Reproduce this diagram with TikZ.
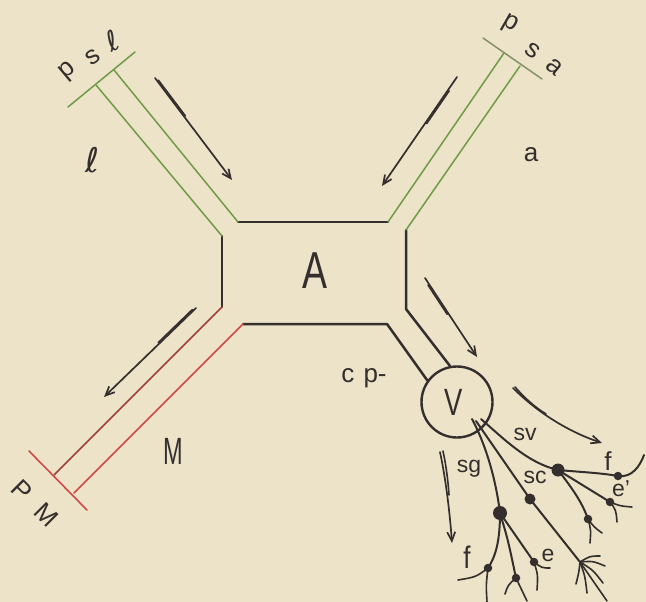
\documentclass[tikz,border=0pt]{standalone}
\usepackage{fontspec}
\setmainfont{Liberation Sans}
\newfontfamily\ellfont{DejaVu Sans}
\usetikzlibrary{arrows.meta,calc}

\definecolor{paper}{RGB}{236,227,201}
\definecolor{ink}{RGB}{52,47,45}
\definecolor{nerve}{RGB}{112,155,70}
\definecolor{motor}{RGB}{208,74,70}
\definecolor{motordark}{RGB}{160,62,56}

\tikzset{
  wall/.style={draw=ink, line width=2.5pt, line join=round, line cap=round},
  sensory/.style={draw=nerve, line width=1.5pt, line cap=round},
  efferent/.style={draw=motor, line width=1.6pt, line cap=round},
  flow/.style={draw=ink, line width=1.7pt, line cap=round,
    -{Straight Barb[length=9pt,width=8pt,line width=1.7pt]}},
  flowmark/.style={draw=ink, line width=1.6pt, line cap=round},
  fiber/.style={draw=ink, line width=2pt, line cap=round},
  twig/.style={draw=ink, line width=1.6pt, line cap=round},
  bigdot/.style={circle, fill=ink, inner sep=0pt, minimum size=13pt},
  smalldot/.style={circle, fill=ink, inner sep=0pt, minimum size=8.5pt},
  lab/.style={text=ink, inner sep=0pt, font=\fontsize{26}{26}\selectfont},
  smalllab/.style={text=ink, inner sep=0pt, font=\fontsize{23}{23}\selectfont},
  elllab/.style={text=ink, inner sep=0pt, font=\ellfont\fontsize{28}{28}\selectfont},
}

\begin{document}
\begin{tikzpicture}[x=1pt,y=-1pt]
\fill[paper] (0,0) rectangle (646,602);
\useasboundingbox (0,0) rectangle (646,602);

% ---------- ventricle V ----------
\node[draw=ink, line width=2.4pt, circle, minimum size=71pt, inner sep=0pt] (V) at (457,402) {};
\node[text=ink, inner sep=0pt, font=\fontsize{38}{38}\selectfont, xscale=0.72] (Vlab) at (454,402) {V};

% ---------- chamber A ----------
\coordinate (tl1) at (238,222);
\coordinate (tl2) at (222,236);
\coordinate (tr1) at (388,222);
\coordinate (tr2) at (406,230);
\coordinate (bl1) at (222,307);
\coordinate (bl2) at (243,324);
\coordinate (br1) at (387,324);
\coordinate (br2) at (406,309);

\draw[wall] (tl1) -- (tr1);
\draw[wall] (tl2) -- (bl1);
\draw[wall] (bl2) -- (br1) -- (V.144);
\draw[wall] (tr2) -- (br2) -- (V.101);

\node[text=ink, inner sep=0pt, font=\fontsize{52}{52}\selectfont, xscale=0.72] (Alab) at (315,271) {A};

% ---------- channel l (green) ----------
\coordinate (l1) at (114,70);
\coordinate (l2) at (96,85);
\coordinate (lc1) at (68,107);
\coordinate (lc2) at (135,52);
\draw[sensory] (tl1) -- (l1);
\draw[sensory] (tl2) -- (l2);
\draw[sensory] (lc1) -- (lc2);

% ---------- channel a (green) ----------
\coordinate (r1) at (504,53);
\coordinate (r2) at (520,66);
\coordinate (rc1) at (483,38);
\coordinate (rc2) at (542,79);
\draw[sensory] (tr1) -- (r1);
\draw[sensory] (tr2) -- (r2);
\draw[sensory, draw=nerve!60!ink!70!paper] (rc1) -- (rc2);

% ---------- channel M (red) ----------
\coordinate (m1) at (54,475);
\coordinate (m2) at (74,493);
\coordinate (mc1) at (29,451);
\coordinate (mc2) at (87,510);
\draw[efferent, draw=motordark] (bl1) -- (m1);
\draw[efferent] (bl2) -- (m2);
\draw[efferent] (mc1) -- (mc2);

% ---------- flow arrows ----------
\coordinate (a1s) at (155,78);   \coordinate (a1e) at (232,180);
\coordinate (a2s) at (457,77);   \coordinate (a2e) at (382,186);
\coordinate (a3s) at (196,308);  \coordinate (a3e) at (104,397);
\coordinate (a4s) at (425,278);  \coordinate (a4e) at (477,357);
\coordinate (a5s) at (513,388);  \coordinate (a5e) at (602,443);
\coordinate (a6s) at (440,452);  \coordinate (a6e) at (452,543);

\draw[flow] (a1s) -- (a1e);
\draw[flowmark] ($(a1s)!0.03!(a1e)!1.4pt!90:(a1e)$) -- ($(a1s)!0.38!(a1e)!1.4pt!90:(a1e)$);
\draw[flow] (a2s) -- (a2e);
\draw[flowmark] ($(a2s)!0.12!(a2e)!1.4pt!90:(a2e)$) -- ($(a2s)!0.42!(a2e)!1.4pt!90:(a2e)$);
\draw[flow] (a3s) -- (a3e);
\draw[flowmark] ($(a3s)!0.03!(a3e)!1.4pt!-90:(a3e)$) -- ($(a3s)!0.40!(a3e)!1.4pt!-90:(a3e)$);
\draw[flow] (a4s) -- (a4e);
\draw[flowmark] ($(a4s)!0.08!(a4e)!1.4pt!-90:(a4e)$) -- ($(a4s)!0.45!(a4e)!1.4pt!-90:(a4e)$);
\draw[flow] (a5s) .. controls (540,415) and (572,433) .. (a5e);
\draw[flowmark] ($(a5s)+(2,-1)$) .. controls (524,397) and (533,406) .. (546,414);
\draw[flow] (a6s) .. controls (446,480) and (450,515) .. (a6e);
\draw[flowmark] ($(a6s)+(3,-1)$) .. controls (446,465) and (448,480) .. (449,495);

% ---------- fibres leaving V ----------
\coordinate (o1) at (472,419);
\coordinate (o2) at (476,421);
\coordinate (o3) at (481,419);

\node[bigdot] (d1) at (558,470) {};
\node[smalldot] (f1) at (618,476) {};
\node[smalldot] (e1) at (610,502) {};
\node[smalldot] (k1) at (588,519) {};
\node[bigdot, minimum size=11pt] (c1) at (530,499) {};
\coordinate (brush) at (580,562);
\node[bigdot, minimum size=14pt] (g1) at (500,513) {};
\node[smalldot] (f2) at (488,568) {};
\node[smalldot] (k2) at (516,578) {};
\node[smalldot] (e2) at (534,562) {};

% sv
\draw[fiber] (o3) .. controls (505,440) and (528,463) .. (d1.center);
\draw[fiber] (d1.center) .. controls (580,472) and (602,473) .. (f1.center)
  .. controls (632,478) and (640,466) .. (644,455);
\draw[fiber] (d1.center) -- (e1.center);
\draw[twig] (e1.center) .. controls (620,506) .. (632,507);
\draw[twig] (e1.center) .. controls (616,510) .. (617,522);
\draw[fiber] (d1.center) .. controls (572,488) and (582,502) .. (k1.center);
\draw[twig] (k1.center) .. controls (594,527) .. (602,533);
\draw[twig] (k1.center) .. controls (591,530) .. (590,543);

% sc
\draw[fiber] (o2) -- (c1.center) -- (brush);
\draw[twig] (brush) .. controls (590,556) .. (600,556);
\draw[twig] (brush) .. controls (593,561) .. (605,566);
\draw[twig] (brush) .. controls (593,570) .. (603,583);
\draw[twig] (brush) -- (607,601);
\draw[twig] (brush) .. controls (585,576) .. (587,593);
\draw[twig] (brush) .. controls (579,572) .. (576,584);

% sg
\draw[fiber] (o1) .. controls (486,445) and (496,480) .. (g1.center);
\draw[fiber] (g1.center) .. controls (500,540) and (496,556) .. (f2.center);
\draw[twig] (f2.center) .. controls (476,577) .. (458,580);
\draw[twig] (f2.center) .. controls (486,585) .. (487,602);
\draw[fiber] (g1.center) .. controls (508,540) .. (k2.center);
\draw[twig] (k2.center) .. controls (508,585) .. (505,594);
\draw[twig] (k2.center) .. controls (522,590) .. (527,601);
\draw[fiber] (g1.center) -- (e2.center);
\draw[twig] (e2.center) .. controls (542,568) .. (550,568);
\draw[twig] (e2.center) .. controls (538,575) .. (537,590);

% ---------- labels ----------
% letters of the end-plate names, set one by one along their caps
\node[lab, rotate=40] (psl1) at (68,72) {p};
\node[lab, rotate=35] (psl2) at (93,57) {s};
\node[elllab, rotate=25] (psl3) at (112,41) {ℓ};
\node[lab, rotate=-30] (psa1) at (510,24) {p};
\node[lab, rotate=-35] (psa2) at (533,51) {s};
\node[lab, rotate=-40] (psa3) at (554,67) {a};
\node[lab, rotate=-45] (pm1) at (22,490) {P};
\node[lab, rotate=-45] (pm2) at (46,515) {M};

\node[elllab, font=\ellfont\fontsize{34}{34}\selectfont] (ell) at (93,160) {ℓ};
\node[lab] (alab) at (531,155) {a};
\node[text=ink, inner sep=0pt, font=\fontsize{38}{38}\selectfont, xscale=0.62] (Mlab) at (173,451) {M};
\node[lab] (cp) at (364,378) {c\hspace{2pt} p-};
\node[smalllab] (sv) at (525,434) {sv};
\node[smalllab] (sc) at (535,477) {sc};
\node[smalllab] (sg) at (469,469) {sg};
\node[lab] (fu) at (608,461) {f};
\node[smalllab] (ep) at (621,489) {e'};
\node[lab, yscale=1.2] (fl) at (467,557) {f};
\node[smalllab] (el) at (548,555) {e};
\end{tikzpicture}
\end{document}
